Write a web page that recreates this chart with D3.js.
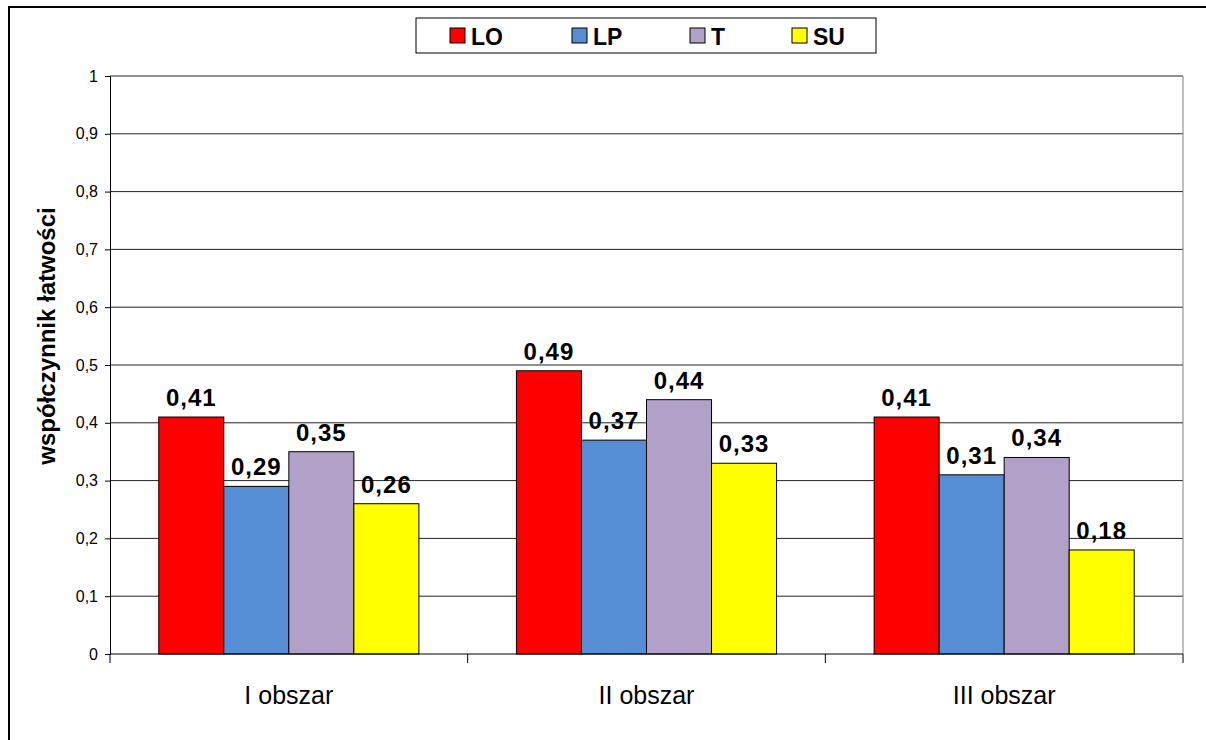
<!DOCTYPE html>
<html>
<head>
<meta charset="utf-8">
<script src="https://cdn.jsdelivr.net/npm/d3@7"></script>
<style>
  body { margin: 0; background: #fff; }
  text { font-family: Arial, "Liberation Sans", sans-serif; }
</style>
</head>
<body>
<div id="chart"></div>
<script>
// Data
const categories = ["I obszar", "II obszar", "III obszar"];
const seriesNames = ["LO", "LP", "T", "SU"];
const LO = [0.41, 0.49, 0.41];
const LP = [0.29, 0.37, 0.31];
const T  = [0.35, 0.44, 0.34];
const SU = [0.26, 0.33, 0.18];
const yTicks = [0, 0.1, 0.2, 0.3, 0.4, 0.5, 0.6, 0.7, 0.8, 0.9, 1];
const yTitle = "współczynnik łatwości";

const colors = {LO: "#ff0000", LP: "#558ed5", T: "#b1a0c7", SU: "#ffff00"};
const seriesValues = {LO: LO, LP: LP, T: T, SU: SU};

const W = 1206, H = 740;
const margin = {top: 76, right: 23, bottom: 86, left: 110};
const width = W - margin.left - margin.right,
      height = H - margin.top - margin.bottom;

const fmt = v => d3.format(".2f")(v).replace(".", ",");
const tickFmt = v => String(v).replace(".", ",");

const svgRoot = d3.select("#chart")
  .append("svg")
    .attr("width", W)
    .attr("height", H);

// outer chart frame
svgRoot.append("rect")
    .attr("x", 9).attr("y", 7)
    .attr("width", W + 20).attr("height", H + 20)
    .attr("fill", "#fff")
    .attr("stroke", "#000")
    .attr("stroke-width", 2);

const svg = svgRoot.append("g")
    .attr("transform", `translate(${margin.left},${margin.top})`);

// Scales
const x0 = d3.scaleBand()
    .domain(categories)
    .range([0, width])
    .paddingInner(0)
    .paddingOuter(0);

const x1 = d3.scaleBand()
    .domain(seriesNames)
    .range([0, x0.bandwidth()])
    .paddingOuter(0.75)
    .paddingInner(0);

const y = d3.scaleLinear()
    .domain([0, 1])
    .range([height, 0]);

// Gridlines
svg.append("g")
  .selectAll("line")
  .data(yTicks.filter(d => d > 0))
  .enter()
  .append("line")
    .attr("x1", 0)
    .attr("x2", width)
    .attr("y1", d => y(d))
    .attr("y2", d => y(d))
    .attr("stroke", "#222")
    .attr("stroke-width", 1);

// right border of plot area
svg.append("line")
    .attr("x1", width).attr("x2", width)
    .attr("y1", 0).attr("y2", height)
    .attr("stroke", "#808080");

// Y axis
const yAxis = svg.append("g")
    .call(d3.axisLeft(y).tickValues(yTicks).tickFormat(tickFmt).tickSize(5).tickPadding(7));
yAxis.select(".domain").attr("stroke", "#000");
yAxis.selectAll(".tick line").attr("stroke", "#000");
yAxis.selectAll(".tick text")
    .style("font-size", "16px")
    .attr("fill", "#000");

// Y title
svg.append("text")
    .attr("transform", "rotate(-90)")
    .attr("x", -(y(0.5) - 29))
    .attr("y", -55)
    .attr("text-anchor", "middle")
    .style("font-size", "24px")
    .style("font-weight", "bold")
    .text(yTitle);

// Bars
const groups = svg.selectAll("g.group")
  .data(categories)
  .enter()
  .append("g")
    .attr("class", "group")
    .attr("transform", d => `translate(${x0(d)},0)`);

groups.selectAll("rect")
  .data((c, i) => seriesNames.map(s => ({s: s, v: seriesValues[s][i]})))
  .enter()
  .append("rect")
    .attr("x", d => x1(d.s))
    .attr("y", d => y(d.v))
    .attr("width", x1.bandwidth())
    .attr("height", d => height - y(d.v))
    .attr("fill", d => colors[d.s])
    .attr("stroke", "#000")
    .attr("stroke-width", 1);

groups.selectAll("text.val")
  .data((c, i) => seriesNames.map(s => ({s: s, v: seriesValues[s][i]})))
  .enter()
  .append("text")
    .attr("class", "val")
    .attr("x", d => x1(d.s) + x1.bandwidth() / 2)
    .attr("y", d => y(d.v) - 11)
    .attr("text-anchor", "middle")
    .style("font-size", "24px")
    .style("font-weight", "bold")
    .style("letter-spacing", "1px")
    .text(d => fmt(d.v));

// X axis
const xAxisG = svg.append("g")
    .attr("transform", `translate(0,${height})`);
xAxisG.append("line")
    .attr("x1", 0).attr("x2", width)
    .attr("stroke", "#000");
xAxisG.selectAll("line.tk")
  .data(d3.range(categories.length + 1))
  .enter()
  .append("line")
    .attr("class", "tk")
    .attr("x1", i => i * x0.step())
    .attr("x2", i => i * x0.step())
    .attr("y1", 0)
    .attr("y2", 9)
    .attr("stroke", "#000");
xAxisG.selectAll("text")
  .data(categories)
  .enter()
  .append("text")
    .attr("x", d => x0(d) + x0.bandwidth() / 2)
    .attr("y", 50)
    .attr("text-anchor", "middle")
    .style("font-size", "25px")
    .text(d => d);

// Legend
const legend = svgRoot.append("g")
    .attr("transform", "translate(416,18)");
legend.append("rect")
    .attr("width", 460)
    .attr("height", 35)
    .attr("fill", "#fff")
    .attr("stroke", "#000")
    .attr("stroke-width", 1);
const legendX = [34, 156, 274, 376];
const items = legend.selectAll("g.item")
  .data(seriesNames)
  .enter()
  .append("g")
    .attr("class", "item")
    .attr("transform", (d, i) => `translate(${legendX[i]},0)`);
items.append("rect")
    .attr("y", 10)
    .attr("width", 15)
    .attr("height", 15)
    .attr("fill", d => colors[d])
    .attr("stroke", "#000");
items.append("text")
    .attr("x", 21)
    .attr("y", 27)
    .style("font-size", "23px")
    .style("font-weight", "bold")
    .text(d => d);
</script>
</body>
</html>
